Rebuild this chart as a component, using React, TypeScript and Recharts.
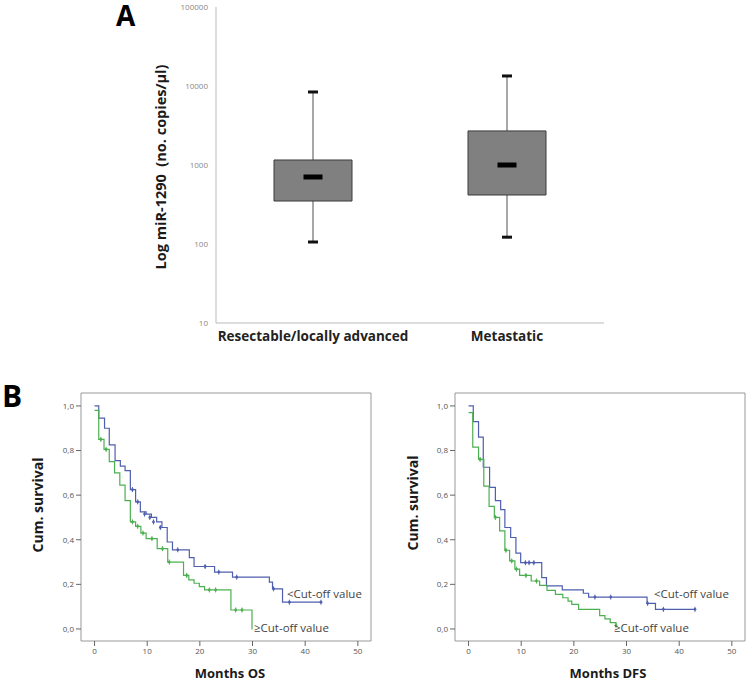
import React from 'react'
import {
  ComposedChart, Bar, Line, Scatter, XAxis, YAxis, ReferenceArea,
} from 'recharts'

// panel A: box plot, log scale
const groups = ['Resectable/locally advanced', 'Metastatic']
const whiskerLow = [106, 122]
const boxLow = [350, 417]
const medians = [705, 1000]
const boxHigh = [1157, 2700]
const whiskerHigh = [8400, 13400]
const logTicks = [10, 100, 1000, 10000, 100000]

// panel B: Kaplan-Meier steps (months, cum. survival)
const monthTicks = [0, 10, 20, 30, 40, 50]
const survTicks = [0, 0.2, 0.4, 0.6, 0.8, 1]

const osLowT = [0, 0.8, 1.9, 2.8, 3.9, 4.9, 5.8, 6.8, 7.8, 8.7, 9.8, 10.8, 11.8, 12.8, 13.8, 14.8, 18.0, 18.9, 22.8, 26.2, 33.2, 33.8, 35.7, 43]
const osLowS = [1, 0.945, 0.9, 0.825, 0.755, 0.73, 0.71, 0.625, 0.57, 0.525, 0.515, 0.5, 0.48, 0.455, 0.39, 0.355, 0.32, 0.28, 0.255, 0.232, 0.21, 0.18, 0.12, 0.12]
const osLowCensT = [7.2, 8.2, 9.5, 10.5, 11.2, 12.5, 15.8, 21, 23.6, 27, 34, 37, 43]
const osLowCensS = [0.625, 0.57, 0.515, 0.5, 0.48, 0.455, 0.355, 0.28, 0.255, 0.232, 0.18, 0.12, 0.12]

const osHighT = [0, 0.8, 1.8, 2.8, 3.8, 4.8, 5.8, 6.8, 7.8, 8.8, 9.8, 11.9, 13.9, 16.9, 17.9, 18.9, 19.9, 20.9, 25.9, 29.9, 30]
const osHighS = [0.98, 0.85, 0.805, 0.75, 0.7, 0.645, 0.575, 0.48, 0.46, 0.43, 0.405, 0.36, 0.3, 0.24, 0.22, 0.205, 0.19, 0.175, 0.085, 0, 0]
const osHighCensT = [1.2, 2.2, 7.2, 8.2, 9.2, 10.9, 12.9, 14.2, 17.5, 21.8, 23, 26.8, 28]
const osHighCensS = [0.85, 0.805, 0.48, 0.46, 0.43, 0.405, 0.36, 0.3, 0.24, 0.175, 0.175, 0.085, 0.085]

const dfsLowT = [0, 0.9, 1.9, 2.8, 4.0, 5.1, 6.1, 6.9, 8.0, 9.0, 9.9, 13.9, 14.8, 17.8, 21.8, 22.8, 33.9, 35.5, 43]
const dfsLowS = [1, 0.93, 0.86, 0.725, 0.635, 0.575, 0.535, 0.455, 0.41, 0.34, 0.297, 0.23, 0.193, 0.175, 0.16, 0.143, 0.115, 0.088, 0.088]
const dfsLowCensT = [10.8, 11.5, 12.4, 24, 27, 34, 37, 43]
const dfsLowCensS = [0.297, 0.297, 0.297, 0.143, 0.143, 0.115, 0.088, 0.088]

const dfsHighT = [0, 0.8, 1.9, 2.9, 3.9, 4.9, 5.9, 6.9, 7.8, 8.8, 9.7, 11.9, 13.5, 14.9, 16.5, 17.9, 18.9, 19.6, 20.9, 24.9, 25.9, 26.9, 28]
const dfsHighS = [0.97, 0.815, 0.76, 0.64, 0.55, 0.5, 0.44, 0.353, 0.305, 0.268, 0.24, 0.215, 0.195, 0.173, 0.155, 0.14, 0.125, 0.11, 0.088, 0.06, 0.045, 0.028, 0.015]
const dfsHighCensT = [2.2, 5.1, 7.1, 8.2, 9.1, 10.9, 12.9, 28]
const dfsHighCensS = [0.76, 0.5, 0.353, 0.305, 0.268, 0.24, 0.215, 0.015]

const BLUE = '#4f5fae'
const GREEN = '#4cb050'
const FONT = '"Open Sans", sans-serif'

const zip = (t: number[], s: number[]) => t.map((v, i) => ({ t: v, s: s[i] }))

const boxRows = groups.map((g, i) => ({
  group: g,
  whisker: [whiskerLow[i], whiskerHigh[i]],
  box: [boxLow[i], boxHigh[i]],
  median: medians[i],
}))

const Whisker = (p: any) => {
  const { x, y, width, height } = p
  const cx = x + width / 2
  return (
    <g>
      <line x1={cx} x2={cx} y1={y} y2={y + height} stroke="#8a8a8a" strokeWidth={1.5} />
      <rect x={cx - 5} y={y - 1.5} width={10} height={3} fill="#111" />
      <rect x={cx - 5} y={y + height - 1.5} width={10} height={3} fill="#111" />
    </g>
  )
}

const MedianDot = (p: any) => (
  <rect key={p.index} x={p.cx - 9.5} y={p.cy - 2.5} width={19} height={5} fill="#000" />
)

function BoxPanel() {
  return (
    <ComposedChart width={750} height={360} data={boxRows}
      margin={{ top: 7, right: 146, bottom: 7, left: 0 }}>
      <XAxis xAxisId="w" dataKey="group" height={30} tickLine={false}
        axisLine={{ stroke: '#bbb' }}
        tick={{ fontSize: 13.5, fontWeight: 700, fill: '#222', fontFamily: FONT }} />
      <XAxis xAxisId="b" dataKey="group" hide height={0} />
      <YAxis type="number" scale="log" domain={[10, 100000]} ticks={logTicks}
        allowDataOverflow width={216} tickLine={false} axisLine={{ stroke: '#bbb' }}
        tick={{ fontSize: 8, fill: '#888', fontFamily: FONT }} />
      <Bar xAxisId="w" dataKey="whisker" barSize={78} shape={Whisker} isAnimationActive={false} />
      <Bar xAxisId="b" dataKey="box" barSize={78} fill="#808080" stroke="#3a3a3a"
        strokeWidth={1} isAnimationActive={false} />
      <Line xAxisId="w" dataKey="median" stroke="none" dot={MedianDot} activeDot={false}
        isAnimationActive={false} />
    </ComposedChart>
  )
}

const censorShape = (color: string) => (p: any) => (
  <g>
    <line x1={p.cx} x2={p.cx} y1={p.cy - 2.5} y2={p.cy + 2.5} stroke={color} strokeWidth={1} />
    <circle cx={p.cx} cy={p.cy} r={1.4} fill={color} />
  </g>
)

interface KMProps {
  low: { t: number; s: number }[]
  high: { t: number; s: number }[]
  lowCens: { t: number; s: number }[]
  highCens: { t: number; s: number }[]
}

const X_DOM: [number, number] = [-2.57, 52.5]
const Y_DOM: [number, number] = [-0.054, 1.058]

function KMPanel({ low, high, lowCens, highCens }: KMProps) {
  return (
    <ComposedChart width={375} height={309} margin={{ top: 13, right: 4, bottom: 0, left: 0 }}>
      <XAxis type="number" dataKey="t" domain={X_DOM} ticks={monthTicks} allowDataOverflow
        height={48} axisLine={false} tickSize={5} tickLine={{ stroke: '#666' }}
        tick={{ fontSize: 8, fill: '#555', fontFamily: FONT }} />
      <YAxis type="number" domain={Y_DOM} ticks={survTicks} allowDataOverflow width={81}
        axisLine={false} tickSize={5} tickLine={{ stroke: '#666' }}
        tickFormatter={(v: number) => v.toFixed(1).replace('.', ',')}
        tick={{ fontSize: 8, fill: '#555', fontFamily: FONT }} />
      <ReferenceArea x1={X_DOM[0]} x2={X_DOM[1]} y1={Y_DOM[0]} y2={Y_DOM[1]}
        fill="none" stroke="#999" strokeWidth={1} ifOverflow="visible" />
      <Line data={low} dataKey="s" type="stepAfter" stroke={BLUE} strokeWidth={1.2}
        dot={false} activeDot={false} isAnimationActive={false} />
      <Line data={high} dataKey="s" type="stepAfter" stroke={GREEN} strokeWidth={1.2}
        dot={false} activeDot={false} isAnimationActive={false} />
      <Scatter data={lowCens} dataKey="s" shape={censorShape(BLUE)} isAnimationActive={false} />
      <Scatter data={highCens} dataKey="s" shape={censorShape(GREEN)} isAnimationActive={false} />
    </ComposedChart>
  )
}

export default function App() {
  const bold = { fontFamily: FONT, fontWeight: 700, fill: '#1a1a1a' }
  const note = { fontFamily: FONT, fontSize: 11.5, fill: '#444' }
  return (
    <div style={{ position: 'absolute', left: 0, top: 0, width: 750, height: 689, background: '#fff' }}>
      <div style={{ position: 'absolute', left: 0, top: 0 }}>
        <BoxPanel />
      </div>
      <div style={{ position: 'absolute', left: 0, top: 380 }}>
        <KMPanel low={zip(osLowT, osLowS)} high={zip(osHighT, osHighS)}
          lowCens={zip(osLowCensT, osLowCensS)} highCens={zip(osHighCensT, osHighCensS)} />
      </div>
      <div style={{ position: 'absolute', left: 374, top: 380 }}>
        <KMPanel low={zip(dfsLowT, dfsLowS)} high={zip(dfsHighT, dfsHighS)}
          lowCens={zip(dfsLowCensT, dfsLowCensS)} highCens={zip(dfsHighCensT, dfsHighCensS)} />
      </div>
      <svg width={750} height={689} style={{ position: 'absolute', left: 0, top: 0, pointerEvents: 'none' }}>
        <text x={116} y={26} fontSize={28} style={{ ...bold, fill: '#000' }}>A</text>
        <text transform="translate(160,167) rotate(-90)" textAnchor="middle" dominantBaseline="central"
          fontSize={14.5} style={{ ...bold, whiteSpace: 'pre' }}>{'Log miR-1290  (no. copies/µl)'}</text>

        <text x={2} y={407} fontSize={30} style={{ ...bold, fill: '#000' }}>B</text>
        <text transform="translate(37,505) rotate(-90)" textAnchor="middle" dominantBaseline="central"
          fontSize={14} style={bold}>Cum. survival</text>
        <text transform="translate(412,503) rotate(-90)" textAnchor="middle" dominantBaseline="central"
          fontSize={14} style={bold}>Cum. survival</text>
        <text x={230} y={673} textAnchor="middle" dominantBaseline="central" fontSize={13} style={bold}>Months OS</text>
        <text x={608} y={673} textAnchor="middle" dominantBaseline="central" fontSize={13} style={bold}>Months DFS</text>

        <text x={287} y={593} dominantBaseline="central" style={note}>{'<Cut-off value'}</text>
        <text x={254} y={627} dominantBaseline="central" style={note}>{'≥Cut-off value'}</text>
        <text x={654} y={593} dominantBaseline="central" style={note}>{'<Cut-off value'}</text>
        <text x={614} y={627} dominantBaseline="central" style={note}>{'≥Cut-off value'}</text>
      </svg>
    </div>
  )
}
